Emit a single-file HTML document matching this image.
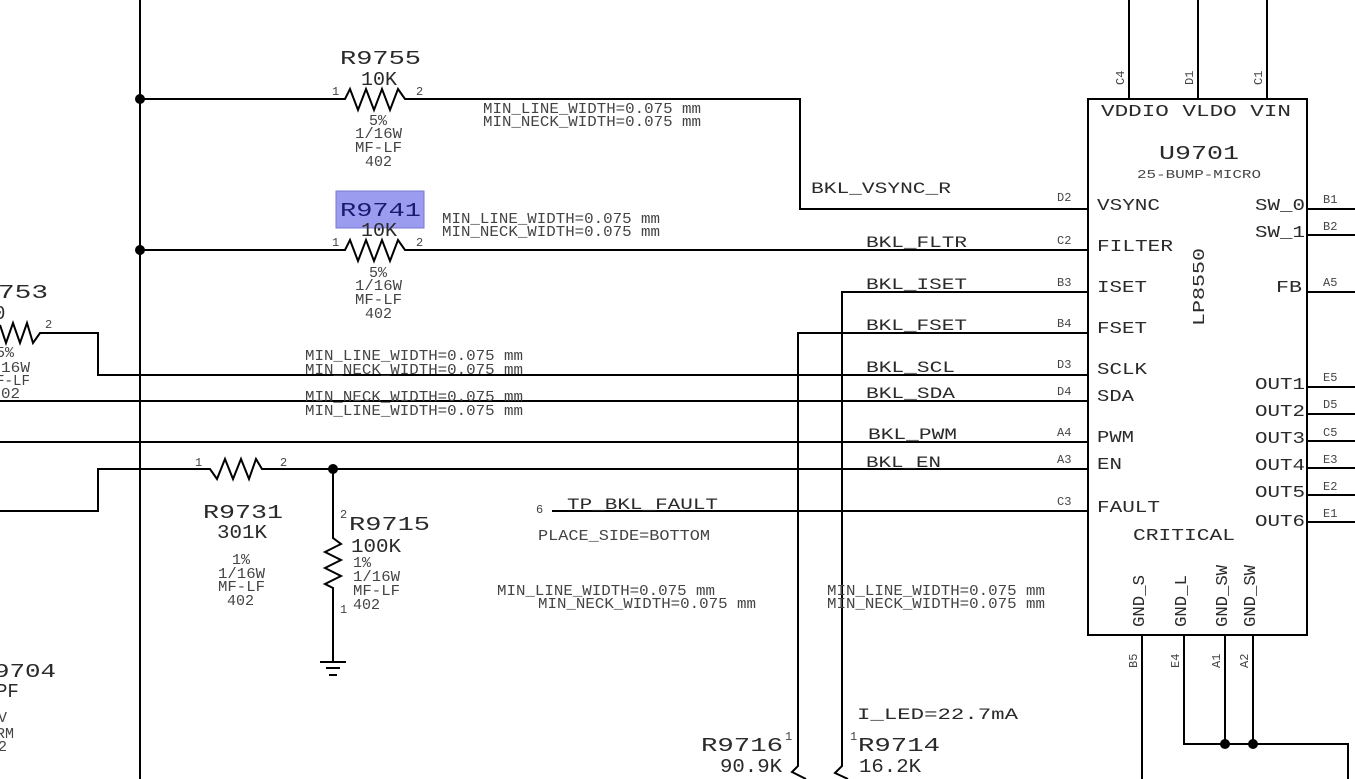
<!DOCTYPE html>
<html><head><meta charset="utf-8"><style>
html,body{margin:0;padding:0;background:#fff;}
svg{display:block;}
text{font-family:"Liberation Mono",monospace;fill:#2a2a2a;}
.s{font-size:15px;fill:#444;}
.p{font-size:12px;fill:#444;}
.m{font-size:17px;}
.l{font-size:19px;}
.n{font-size:16px;}
.v{font-size:19px;}
</style></head><body>
<svg width="1355" height="779" viewBox="0 0 1355 779" xmlns="http://www.w3.org/2000/svg">
<g stroke="#000" stroke-width="2" fill="none">
<line x1="140" y1="0" x2="140" y2="779"/>
<polyline points="140,99 345,99 350,89 358,110 366,89 374,110 382,89 390,110 398,89 405,99 800,99 800,209 1088,209"/>
<polyline points="140,250 345,250 350,240 358,261 366,240 374,261 382,240 390,261 398,240 405,250 1088,250"/>
<polyline points="0,325 6,343 13,323 20,343 27,323 33,343 40,333 98,333 98,375 1088,375"/>
<line x1="0" y1="401" x2="1088" y2="401"/>
<line x1="0" y1="442" x2="1088" y2="442"/>
<polyline points="0,511 98,511 98,469 205,469 210,469 217,479 225,459 233,479 241,459 249,479 256,459 262,469 1088,469"/>
<polyline points="333,469 333,538 341,544 325,552 341,560 325,568 341,576 325,584 333,588 333,661"/>
<line x1="320" y1="662" x2="346" y2="662"/>
<line x1="326" y1="668" x2="340" y2="668"/>
<line x1="329" y1="675" x2="337" y2="675"/>
<polyline points="1088,292 842,292 842,766 835,773 848,779"/>
<polyline points="1088,333 798,333 798,766 792,772 806,779"/>
<line x1="552" y1="511" x2="1088" y2="511"/>
<rect x="1088" y="99" width="219" height="536"/>
<line x1="1129" y1="0" x2="1129" y2="99"/>
<line x1="1198" y1="0" x2="1198" y2="99"/>
<line x1="1267" y1="0" x2="1267" y2="99"/>
<line x1="1142" y1="635" x2="1142" y2="779"/>
<polyline points="1184,635 1184,744 1348,744 1348,779"/>
<line x1="1225" y1="635" x2="1225" y2="744"/>
<line x1="1253" y1="635" x2="1253" y2="744"/>
<line x1="1307" y1="209" x2="1355" y2="209"/>
<line x1="1307" y1="235" x2="1355" y2="235"/>
<line x1="1307" y1="292" x2="1355" y2="292"/>
<line x1="1307" y1="387" x2="1355" y2="387"/>
<line x1="1307" y1="414" x2="1355" y2="414"/>
<line x1="1307" y1="441" x2="1355" y2="441"/>
<line x1="1307" y1="468" x2="1355" y2="468"/>
<line x1="1307" y1="495" x2="1355" y2="495"/>
<line x1="1307" y1="522" x2="1355" y2="522"/>
</g>
<g fill="#000">
<circle cx="140" cy="99" r="5"/><circle cx="140" cy="250" r="5"/>
<circle cx="333" cy="469" r="5"/>
<circle cx="1225" cy="744" r="5"/><circle cx="1253" cy="744" r="5"/>
</g>
<rect x="336" y="191" width="88" height="37" fill="#9b9bf0" stroke="#7a7ad0"/>
<text class="l" x="340" y="64" textLength="81" lengthAdjust="spacingAndGlyphs">R9755</text>
<text class="v" x="361" y="85" textLength="36" lengthAdjust="spacingAndGlyphs">10K</text>
<text class="p" x="332" y="95">1</text><text class="p" x="416" y="95">2</text>
<text class="s" x="369" y="125">5%</text>
<text class="s" x="355" y="138" textLength="47" lengthAdjust="spacingAndGlyphs">1/16W</text>
<text class="s" x="355" y="152" textLength="47" lengthAdjust="spacingAndGlyphs">MF-LF</text>
<text class="s" x="365" y="166" textLength="27" lengthAdjust="spacingAndGlyphs">402</text>
<text class="l" x="340" y="216" textLength="81" lengthAdjust="spacingAndGlyphs" style="fill:#1a1a70">R9741</text>
<text class="v" x="361" y="236" textLength="36" lengthAdjust="spacingAndGlyphs">10K</text>
<text class="p" x="332" y="246">1</text><text class="p" x="416" y="246">2</text>
<text class="s" x="369" y="277">5%</text>
<text class="s" x="355" y="290" textLength="47" lengthAdjust="spacingAndGlyphs">1/16W</text>
<text class="s" x="355" y="304" textLength="47" lengthAdjust="spacingAndGlyphs">MF-LF</text>
<text class="s" x="365" y="318" textLength="27" lengthAdjust="spacingAndGlyphs">402</text>
<text class="l" x="-2" y="298" textLength="50" lengthAdjust="spacingAndGlyphs">753</text>
<text class="v" x="-6" y="319">0</text>
<text class="p" x="45" y="328">2</text>
<text class="s" x="-4" y="357">5%</text>
<text class="s" x="1" y="372" textLength="29" lengthAdjust="spacingAndGlyphs">16W</text>
<text class="s" x="-4" y="385" textLength="34" lengthAdjust="spacingAndGlyphs">F-LF</text>
<text class="s" x="1" y="398" textLength="19" lengthAdjust="spacingAndGlyphs">02</text>
<text class="l" x="203" y="518" textLength="80" lengthAdjust="spacingAndGlyphs">R9731</text>
<text class="v" x="217" y="538" textLength="50" lengthAdjust="spacingAndGlyphs">301K</text>
<text class="p" x="195" y="466">1</text><text class="p" x="280" y="466">2</text>
<text class="s" x="232" y="564">1%</text>
<text class="s" x="218" y="578" textLength="47" lengthAdjust="spacingAndGlyphs">1/16W</text>
<text class="s" x="218" y="591" textLength="47" lengthAdjust="spacingAndGlyphs">MF-LF</text>
<text class="s" x="227" y="605" textLength="27" lengthAdjust="spacingAndGlyphs">402</text>
<text class="p" x="340" y="518">2</text>
<text class="l" x="349" y="530" textLength="81" lengthAdjust="spacingAndGlyphs">R9715</text>
<text class="v" x="351" y="552" textLength="50" lengthAdjust="spacingAndGlyphs">100K</text>
<text class="s" x="353" y="567">1%</text>
<text class="s" x="353" y="581" textLength="47" lengthAdjust="spacingAndGlyphs">1/16W</text>
<text class="s" x="353" y="595" textLength="47" lengthAdjust="spacingAndGlyphs">MF-LF</text>
<text class="s" x="353" y="609" textLength="27" lengthAdjust="spacingAndGlyphs">402</text>
<text class="p" x="340" y="613">1</text>
<text class="l" x="-6" y="677" textLength="62" lengthAdjust="spacingAndGlyphs">9704</text>
<text class="v" x="-4" y="697">PF</text>
<text class="s" x="-2" y="722">V</text>
<text class="s" x="-4" y="738">RM</text>
<text class="s" x="-2" y="751">2</text>
<text class="l" x="701" y="751" textLength="82" lengthAdjust="spacingAndGlyphs">R9716</text>
<text class="p" x="785" y="740">1</text>
<text class="v" x="720" y="772" textLength="62" lengthAdjust="spacingAndGlyphs">90.9K</text>
<text class="p" x="850" y="740">1</text>
<text class="l" x="858" y="751" textLength="82" lengthAdjust="spacingAndGlyphs">R9714</text>
<text class="v" x="859" y="772" textLength="62" lengthAdjust="spacingAndGlyphs">16.2K</text>
<text class="n" x="857" y="719" textLength="161" lengthAdjust="spacingAndGlyphs">I_LED=22.7mA</text>
<g>
<text class="s" x="483" y="113" textLength="218" lengthAdjust="spacingAndGlyphs">MIN_LINE_WIDTH=0.075 mm</text>
<text class="s" x="483" y="126" textLength="218" lengthAdjust="spacingAndGlyphs">MIN_NECK_WIDTH=0.075 mm</text>
<text class="s" x="442" y="223" textLength="218" lengthAdjust="spacingAndGlyphs">MIN_LINE_WIDTH=0.075 mm</text>
<text class="s" x="442" y="236" textLength="218" lengthAdjust="spacingAndGlyphs">MIN_NECK_WIDTH=0.075 mm</text>
<text class="s" x="305" y="360" textLength="218" lengthAdjust="spacingAndGlyphs">MIN_LINE_WIDTH=0.075 mm</text>
<text class="s" x="305" y="374" textLength="218" lengthAdjust="spacingAndGlyphs">MIN_NECK_WIDTH=0.075 mm</text>
<text class="s" x="305" y="401" textLength="218" lengthAdjust="spacingAndGlyphs">MIN_NECK_WIDTH=0.075 mm</text>
<text class="s" x="305" y="415" textLength="218" lengthAdjust="spacingAndGlyphs">MIN_LINE_WIDTH=0.075 mm</text>
<text class="s" x="497" y="595" textLength="218" lengthAdjust="spacingAndGlyphs">MIN_LINE_WIDTH=0.075 mm</text>
<text class="s" x="538" y="608" textLength="218" lengthAdjust="spacingAndGlyphs">MIN_NECK_WIDTH=0.075 mm</text>
<text class="s" x="827" y="595" textLength="218" lengthAdjust="spacingAndGlyphs">MIN_LINE_WIDTH=0.075 mm</text>
<text class="s" x="827" y="608" textLength="218" lengthAdjust="spacingAndGlyphs">MIN_NECK_WIDTH=0.075 mm</text>
<text class="s" x="538" y="540" textLength="172" lengthAdjust="spacingAndGlyphs">PLACE_SIDE=BOTTOM</text>
</g>
<text class="n" x="811" y="193" textLength="140" lengthAdjust="spacingAndGlyphs">BKL_VSYNC_R</text>
<text class="n" x="866" y="247" textLength="101" lengthAdjust="spacingAndGlyphs">BKL_FLTR</text>
<text class="n" x="866" y="289" textLength="101" lengthAdjust="spacingAndGlyphs">BKL_ISET</text>
<text class="n" x="866" y="330" textLength="101" lengthAdjust="spacingAndGlyphs">BKL_FSET</text>
<text class="n" x="866" y="372" textLength="89" lengthAdjust="spacingAndGlyphs">BKL_SCL</text>
<text class="n" x="866" y="398" textLength="89" lengthAdjust="spacingAndGlyphs">BKL_SDA</text>
<text class="n" x="868" y="439" textLength="89" lengthAdjust="spacingAndGlyphs">BKL_PWM</text>
<text class="n" x="866" y="467" textLength="75" lengthAdjust="spacingAndGlyphs">BKL_EN</text>
<text class="n" x="567" y="509" textLength="151" lengthAdjust="spacingAndGlyphs">TP_BKL_FAULT</text>
<text class="p" x="536" y="513">6</text>
<g>
<text class="p" x="1057" y="201">D2</text><text class="p" x="1057" y="244">C2</text>
<text class="p" x="1057" y="286">B3</text><text class="p" x="1057" y="327">B4</text>
<text class="p" x="1057" y="368">D3</text><text class="p" x="1057" y="395">D4</text>
<text class="p" x="1057" y="436">A4</text><text class="p" x="1057" y="463">A3</text>
<text class="p" x="1057" y="505">C3</text>
<text class="p" x="1323" y="203">B1</text><text class="p" x="1323" y="230">B2</text>
<text class="p" x="1323" y="286">A5</text><text class="p" x="1323" y="381">E5</text>
<text class="p" x="1323" y="408">D5</text><text class="p" x="1323" y="436">C5</text>
<text class="p" x="1323" y="463">E3</text><text class="p" x="1323" y="490">E2</text>
<text class="p" x="1323" y="517">E1</text>
</g>
<text class="p" transform="translate(1124,85) rotate(-90)">C4</text>
<text class="p" transform="translate(1193,85) rotate(-90)">D1</text>
<text class="p" transform="translate(1262,85) rotate(-90)">C1</text>
<text class="p" transform="translate(1137,668) rotate(-90)">B5</text>
<text class="p" transform="translate(1179,668) rotate(-90)">E4</text>
<text class="p" transform="translate(1220,668) rotate(-90)">A1</text>
<text class="p" transform="translate(1248,668) rotate(-90)">A2</text>
<text class="m" x="1101" y="116" textLength="190" lengthAdjust="spacingAndGlyphs">VDDIO VLDO  VIN</text>
<text class="l" x="1159" y="159" textLength="80" lengthAdjust="spacingAndGlyphs">U9701</text>
<text class="p" x="1137" y="178" textLength="124" lengthAdjust="spacingAndGlyphs">25-BUMP-MICRO</text>
<g>
<text class="m" x="1097" y="210" textLength="63" lengthAdjust="spacingAndGlyphs">VSYNC</text>
<text class="m" x="1097" y="251" textLength="76" lengthAdjust="spacingAndGlyphs">FILTER</text>
<text class="m" x="1097" y="292" textLength="50" lengthAdjust="spacingAndGlyphs">ISET</text>
<text class="m" x="1097" y="333" textLength="50" lengthAdjust="spacingAndGlyphs">FSET</text>
<text class="m" x="1097" y="374" textLength="50" lengthAdjust="spacingAndGlyphs">SCLK</text>
<text class="m" x="1097" y="401" textLength="37" lengthAdjust="spacingAndGlyphs">SDA</text>
<text class="m" x="1097" y="442" textLength="37" lengthAdjust="spacingAndGlyphs">PWM</text>
<text class="m" x="1097" y="469" textLength="25" lengthAdjust="spacingAndGlyphs">EN</text>
<text class="m" x="1097" y="512" textLength="63" lengthAdjust="spacingAndGlyphs">FAULT</text>
<text class="m" x="1255" y="210" textLength="50" lengthAdjust="spacingAndGlyphs">SW_0</text>
<text class="m" x="1255" y="237" textLength="50" lengthAdjust="spacingAndGlyphs">SW_1</text>
<text class="m" x="1276" y="292" textLength="26" lengthAdjust="spacingAndGlyphs">FB</text>
<text class="m" x="1255" y="389" textLength="50" lengthAdjust="spacingAndGlyphs">OUT1</text>
<text class="m" x="1255" y="416" textLength="50" lengthAdjust="spacingAndGlyphs">OUT2</text>
<text class="m" x="1255" y="443" textLength="50" lengthAdjust="spacingAndGlyphs">OUT3</text>
<text class="m" x="1255" y="470" textLength="50" lengthAdjust="spacingAndGlyphs">OUT4</text>
<text class="m" x="1255" y="497" textLength="50" lengthAdjust="spacingAndGlyphs">OUT5</text>
<text class="m" x="1255" y="526" textLength="50" lengthAdjust="spacingAndGlyphs">OUT6</text>
<text class="m" x="1133" y="540" textLength="102" lengthAdjust="spacingAndGlyphs">CRITICAL</text>
</g>
<text class="m" transform="translate(1204,326) rotate(-90)" textLength="78" lengthAdjust="spacingAndGlyphs">LP8550</text>
<text class="m" transform="translate(1144,627) rotate(-90)" textLength="52" lengthAdjust="spacingAndGlyphs">GND_S</text>
<text class="m" transform="translate(1186,627) rotate(-90)" textLength="52" lengthAdjust="spacingAndGlyphs">GND_L</text>
<text class="m" transform="translate(1227,627) rotate(-90)" textLength="62" lengthAdjust="spacingAndGlyphs">GND_SW</text>
<text class="m" transform="translate(1255,627) rotate(-90)" textLength="62" lengthAdjust="spacingAndGlyphs">GND_SW</text>
</svg>
</body></html>
